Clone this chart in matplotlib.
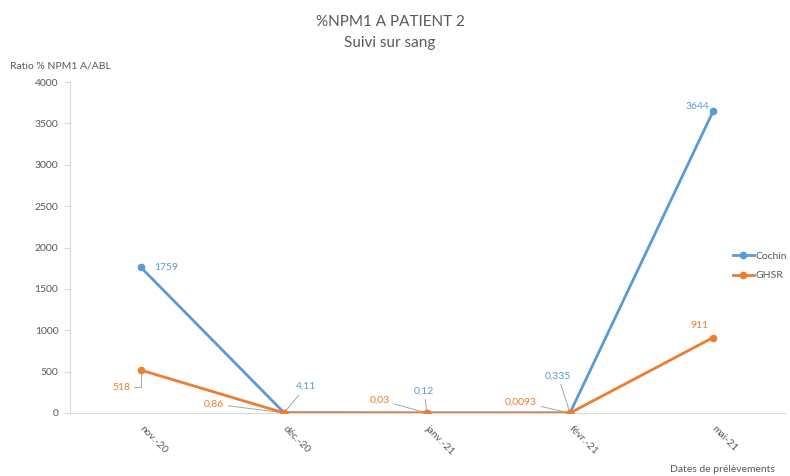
import matplotlib.pyplot as plt

plt.rcParams['font.family'] = ['Lato', 'DejaVu Sans']

# data
dates = ['nov.-20', 'déc.-20', 'janv.-21', 'févr.-21', 'mai-21']
cochin = [1759, 4.11, 0.12, 0.335, 3644]
ghsr = [518, 0.86, 0.03, 0.0093, 911]
cochin_labels = ['1759', '4,11', '0,12', '0,335', '3644']
ghsr_labels = ['518', '0,86', '0,03', '0,0093', '911']

blue = '#5B9BD5'
orange = '#ED7D31'
grey_txt = '#595959'
grey_line = '#D9D9D9'

fig = plt.figure(figsize=(7.9, 4.76), dpi=100)
ax = fig.add_axes([69.5 / 790, 63 / 476, 715 / 790, 331 / 476])

x = list(range(len(dates)))
ax.plot(x, cochin, color=blue, lw=2, marker='o', ms=4.5, label='Cochin', zorder=3)
ax.plot(x, ghsr, color=orange, lw=2, marker='o', ms=4.5, label='GHSR', zorder=4)

# label offsets in pixels (dx, dy), and leader line style (None = no leader)
c_off = [(25, 0, None), (22, 26, 'arc3'), (-3, 22, 'arc3'), (-12, 37, 'arc3'), (-16, 5, None)]
g_off = [(-20, -17, 'angle,angleA=0,angleB=90,rad=0'), (-70, 9, 'arc3'), (-47, 13, 'arc3'),
         (-49, 11, 'arc3'), (-14, 12, None)]

for vals, labs, offs, col in [(cochin, cochin_labels, c_off, blue), (ghsr, ghsr_labels, g_off, orange)]:
    for i in range(len(vals)):
        dx, dy, lead = offs[i]
        props = None
        if lead:
            props = dict(arrowstyle='-', color='#A6A6A6', lw=0.7, shrinkA=1, shrinkB=2,
                         connectionstyle=lead)
        ax.annotate(labs[i], (x[i], vals[i]), xytext=(dx, dy), textcoords='offset pixels',
                    ha='center', va='center', color=col, fontsize=7.5, arrowprops=props)

ax.set_xlim(-0.5, 4.5)
ax.set_ylim(0, 4000)
ax.set_yticks(range(0, 4001, 500))
ax.set_xticks(x)
ax.set_xticklabels(dates, rotation=-45, ha='left', va='center', rotation_mode='anchor')

for s in ['top', 'right']:
    ax.spines[s].set_visible(False)
ax.spines['left'].set_color(grey_line)
ax.spines['bottom'].set_color(grey_line)
ax.tick_params(axis='y', colors=grey_line, labelcolor=grey_txt, labelsize=7.5, length=4, pad=4)
ax.tick_params(axis='x', length=0, labelcolor=grey_txt, labelsize=7.5, pad=10)

fig.text(390 / 790, 1 - 22 / 476, '%NPM1 A PATIENT 2', ha='center', va='center', fontsize=11, color=grey_txt)
fig.text(390 / 790, 1 - 43 / 476, 'Suivi sur sang', ha='center', va='center', fontsize=11, color=grey_txt)
fig.text(10 / 790, 1 - 66 / 476, 'Ratio % NPM1 A/ABL', ha='left', va='center', fontsize=7.5, color=grey_txt)
fig.text(775 / 790, 1 - 470 / 476, 'Dates de prélèvements', ha='right', va='center', fontsize=7.5, color=grey_txt)

ax.legend(loc='center left', bbox_to_anchor=(733 / 790, 1 - 266 / 476), bbox_transform=fig.transFigure,
          frameon=False, fontsize=7.5, labelcolor=grey_txt, handlelength=2, handletextpad=0.2,
          labelspacing=1.0, borderaxespad=0, borderpad=0)

fig.savefig('out.png', dpi=100)
